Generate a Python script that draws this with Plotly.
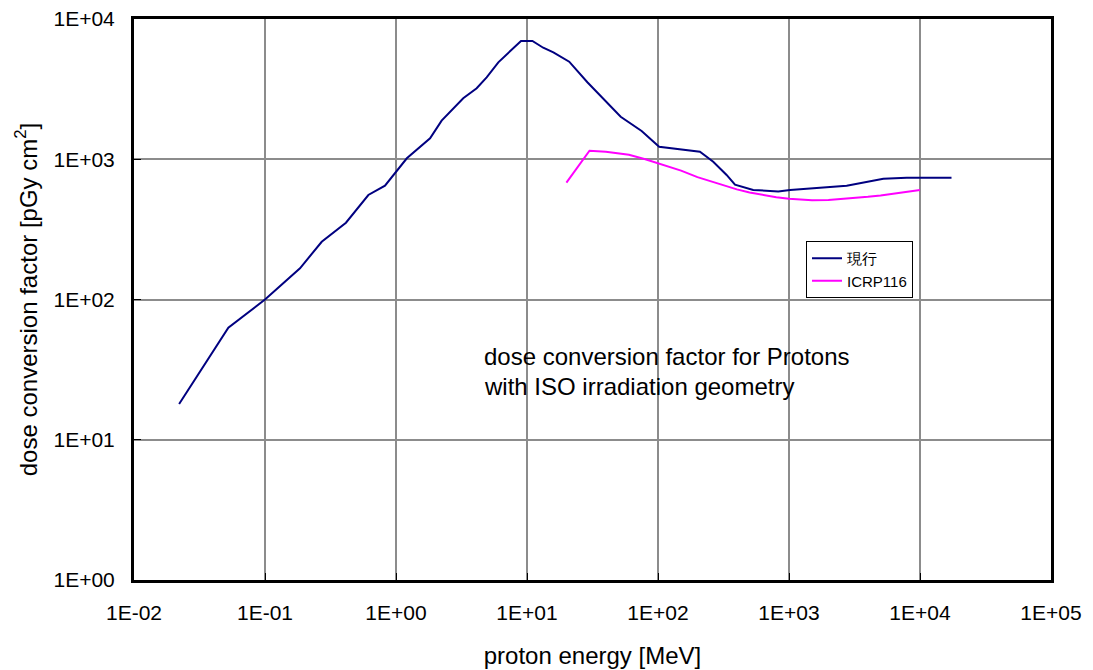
import plotly.graph_objects as go

# Current (現行) dose conversion factors
cur_energy = [0.0221, 0.0525, 0.1, 0.185, 0.271, 0.415, 0.615, 0.824, 1.21, 1.82, 2.23, 2.74,
              3.26, 4.13, 4.92, 6.04, 7.41, 9.0, 11.0, 13.3, 15.9, 21.0, 28.9, 39.3, 51.9,
              75.0, 102, 209, 264, 334, 387, 533, 828, 1019, 2756, 5250, 7910, 17400]
cur_value = [18, 63, 100, 167, 258, 353, 556, 648, 1016, 1409, 1884, 2306,
             2724, 3207, 3836, 4909, 5846, 6966, 6966, 6240, 5785, 4962, 3542, 2643, 2010,
             1589, 1228, 1133, 961, 773, 658, 604, 590, 604, 648, 726, 738, 738]

# ICRP116 dose conversion factors
icrp_energy = [20, 30, 40, 50, 60, 80, 100, 150, 200, 300, 400, 500, 600, 800, 1000,
               1500, 2000, 3000, 4000, 5000, 6000, 8000, 10000]
icrp_value = [681, 1150, 1130, 1105, 1075, 1000, 935, 830, 745, 660, 610, 580, 560, 535, 522,
              510, 512, 525, 540, 552, 565, 585, 604]

x_tickvals = [1e-2, 1e-1, 1e0, 1e1, 1e2, 1e3, 1e4, 1e5]
x_ticktext = ["1E-02", "1E-01", "1E+00", "1E+01", "1E+02", "1E+03", "1E+04", "1E+05"]
y_tickvals = [1e0, 1e1, 1e2, 1e3, 1e4]
y_ticktext = ["1E+00", "1E+01", "1E+02", "1E+03", "1E+04"]

FONT = "Liberation Sans, Arial, sans-serif"

fig = go.Figure()
fig.add_trace(go.Scatter(x=cur_energy, y=cur_value, mode="lines", name="現行",
                         line=dict(color="#000080", width=2)))
fig.add_trace(go.Scatter(x=icrp_energy, y=icrp_value, mode="lines", name="ICRP116",
                         line=dict(color="#ff00ff", width=2)))

fig.add_annotation(text="dose conversion factor for Protons", xref="paper", yref="paper",
                   x=(482 - 134) / 917, y=(580 - 356) / 561, xanchor="left", yanchor="middle",
                   showarrow=False, font=dict(family=FONT, size=24, color="black"))
fig.add_annotation(text="with ISO irradiation geometry", xref="paper", yref="paper",
                   x=(482 - 134) / 917, y=(580 - 386) / 561, xanchor="left", yanchor="middle",
                   showarrow=False, font=dict(family=FONT, size=24, color="black"))

fig.update_layout(
    width=1093, height=670,
    margin=dict(l=134, r=42, t=19, b=90),
    paper_bgcolor="white", plot_bgcolor="white",
    font=dict(family=FONT, size=20, color="black"),
    showlegend=True,
    legend=dict(x=(806 - 134) / 917, y=(580 - 241) / 561, xanchor="left", yanchor="top",
                bgcolor="white", bordercolor="black", borderwidth=1,
                font=dict(family=FONT, size=15), itemwidth=30, tracegroupgap=0),
    xaxis=dict(type="log", range=[-2, 5], tickvals=x_tickvals, ticktext=x_ticktext,
               showgrid=True, gridcolor="#8c8c8c", gridwidth=2,
               showline=True, linecolor="black", linewidth=3, mirror=True,
               ticks="inside", ticklen=7, tickcolor="black", tickwidth=1,
               tickfont=dict(size=21), ticklabelstandoff=12, automargin=False,
               title=dict(text="proton energy [MeV]", font=dict(size=24), standoff=24),
               zeroline=False),
    yaxis=dict(type="log", range=[0, 4], tickvals=y_tickvals, ticktext=y_ticktext,
               showgrid=True, gridcolor="#8c8c8c", gridwidth=2,
               showline=True, linecolor="black", linewidth=3, mirror=True,
               ticks="inside", ticklen=7, tickcolor="black", tickwidth=1,
               tickfont=dict(size=21), ticklabelstandoff=12, automargin=False,
               title=dict(text="dose conversion factor [pGy cm<sup>2</sup>]", font=dict(size=24), standoff=10),
               zeroline=False),
)

fig.write_html("out.html")
